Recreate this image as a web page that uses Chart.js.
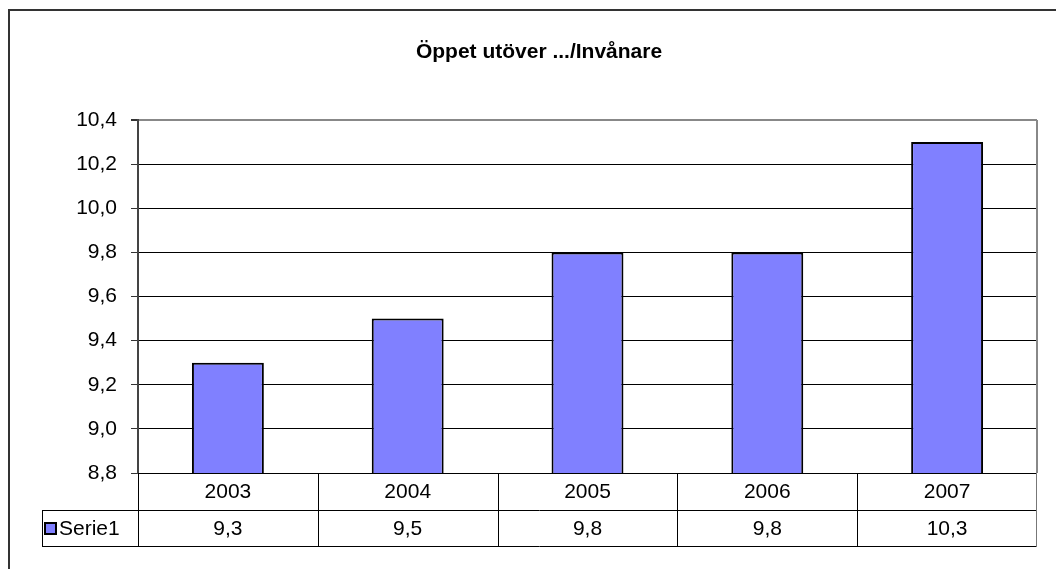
<!DOCTYPE html>
<html>
<head>
<meta charset="utf-8">
<script src="https://cdn.jsdelivr.net/npm/chart.js@4.4.1/dist/chart.umd.min.js"></script>
<style>
    html, body { margin: 0; padding: 0; background: #fff; }
    canvas { display: block; }
</style>
</head>
<body>
<canvas id="chart" width="1056" height="569"></canvas>
<script>
const chartTitle = 'Öppet utöver .../Invånare';
const years = ['2003', '2004', '2005', '2006', '2007'];
const seriesName = 'Serie1';
const serie1 = [9.3, 9.5, 9.8, 9.8, 10.3];
const yMin = 8.8;
const yMax = 10.4;
const yStep = 0.2;

const barColor = '#8080FF';
const fontFamily = 'Arial, "Liberation Sans", sans-serif';

const formatComma = (value) => Number(value).toFixed(1).replace('.', ',');

// frame, title and the data table under the plot
const tablePlugin = {
    id: 'dataTable',
    beforeDraw: (chart) => {
        const { ctx } = chart;
        ctx.save();
        ctx.strokeStyle = '#333';
        ctx.lineWidth = 2;
        ctx.beginPath();
        ctx.moveTo(9, 569);
        ctx.lineTo(9, 10);
        ctx.lineTo(1056, 10);
        ctx.stroke();
        ctx.restore();
    },
    afterDraw: (chart) => {
        const { ctx, chartArea } = chart;
        const xScale = chart.scales.x;
        const n = years.length;
        const step = (chartArea.right - chartArea.left) / n;
        const row1 = chartArea.bottom;
        const row2 = 510;
        const row3 = 546;
        const keyLeft = 42;

        ctx.save();

        // plot area right border
        ctx.strokeStyle = '#888';
        ctx.lineWidth = 2;
        ctx.beginPath();
        ctx.moveTo(chartArea.right, chartArea.top);
        ctx.lineTo(chartArea.right, row1);
        ctx.stroke();

        ctx.strokeStyle = '#000';
        ctx.lineWidth = 1;
        ctx.beginPath();
        ctx.moveTo(keyLeft, row2 + 0.5);
        ctx.lineTo(chartArea.right, row2 + 0.5);
        ctx.moveTo(keyLeft, row3 + 0.5);
        ctx.lineTo(chartArea.right, row3 + 0.5);
        ctx.moveTo(keyLeft + 0.5, row2);
        ctx.lineTo(keyLeft + 0.5, row3);
        for (let i = 0; i < n; i++) {
            const x = Math.round(xScale.getPixelForValue(i) - step / 2) + 0.5;
            ctx.moveTo(x, row1);
            ctx.lineTo(x, row3);
        }
        ctx.stroke();

        ctx.strokeStyle = '#777';
        ctx.beginPath();
        ctx.moveTo(Math.round(chartArea.right) - 0.5, row1);
        ctx.lineTo(Math.round(chartArea.right) - 0.5, row3 + 1);
        ctx.stroke();

        ctx.fillStyle = '#000';
        ctx.font = `21px ${fontFamily}`;
        ctx.textAlign = 'center';
        ctx.textBaseline = 'middle';
        years.forEach((year, i) => {
            const cx = xScale.getPixelForValue(i);
            ctx.fillText(year, cx, (row1 + row2) / 2 + 1);
            ctx.fillText(formatComma(serie1[i]), cx, (row2 + row3) / 2 + 1);
        });

        // legend key
        ctx.fillStyle = barColor;
        ctx.fillRect(45, 523, 11, 11);
        ctx.strokeStyle = '#000';
        ctx.lineWidth = 2;
        ctx.strokeRect(45, 523, 11, 11);
        ctx.fillStyle = '#000';
        ctx.textAlign = 'left';
        ctx.fillText(seriesName, 59, (row2 + row3) / 2 + 1);

        // title
        ctx.font = `bold 21px ${fontFamily}`;
        ctx.textAlign = 'center';
        ctx.fillText(chartTitle, 539, 52);

        ctx.restore();
    },
};

const initChart = () => {
    const canvas = document.getElementById('chart');

    new Chart(canvas, {
        type: 'bar',
        data: {
            labels: years,
            datasets: [
                {
                    label: seriesName,
                    data: serie1,
                    backgroundColor: barColor,
                    borderColor: '#000',
                    borderWidth: 2,
                    borderSkipped: false,
                    barPercentage: 0.4,
                    categoryPercentage: 1,
                },
            ],
        },
        options: {
            responsive: false,
            animation: false,
            layout: {
                padding: { top: 120, right: 19, bottom: 0, left: 0 },
            },
            plugins: {
                legend: { display: false },
                title: { display: false },
                tooltip: { enabled: false },
            },
            scales: {
                x: {
                    offset: true,
                    grid: { display: false, drawTicks: false },
                    border: { display: false },
                    ticks: { display: false },
                    afterFit: (scale) => {
                        scale.height = 96;
                    },
                },
                y: {
                    min: yMin,
                    max: yMax,
                    ticks: {
                        stepSize: yStep,
                        color: '#000',
                        padding: 14,
                        font: { family: fontFamily, size: 21 },
                        callback: (value) => formatComma(value),
                    },
                    grid: {
                        color: (ctx) => (ctx.tick && Math.abs(ctx.tick.value - yMax) < 1e-6 ? '#888' : '#000'),
                        lineWidth: (ctx) => (ctx.tick && Math.abs(ctx.tick.value - yMax) < 1e-6 ? 2 : 1),
                        tickColor: '#333',
                        tickLength: 7,
                    },
                    border: { color: '#444', width: 2 },
                    afterFit: (scale) => {
                        scale.width = 138;
                    },
                },
            },
        },
        plugins: [tablePlugin],
    });
};

document.addEventListener('DOMContentLoaded', initChart);
</script>
</body>
</html>
